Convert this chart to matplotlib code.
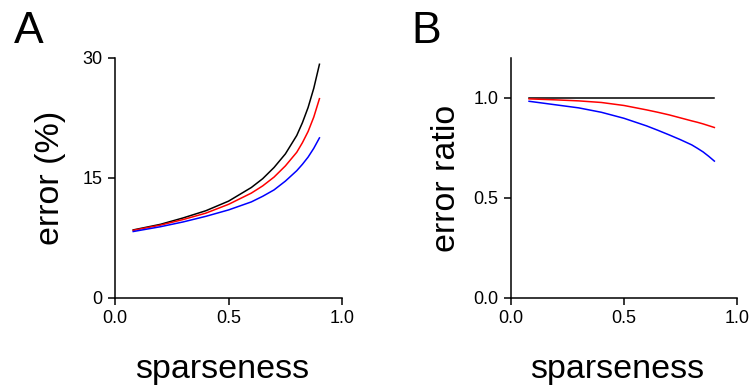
import matplotlib
matplotlib.use('Agg')
import matplotlib.pyplot as plt

plt.rcParams['font.family'] = ['Liberation Sans', 'DejaVu Sans']

# sparseness values where the curves were sampled
sparseness = [0.08, 0.2, 0.3, 0.4, 0.5, 0.6, 0.65, 0.7, 0.75, 0.8, 0.825, 0.85, 0.875, 0.9]

# panel A: error (%)
err_black = [8.5, 9.2, 10.0, 10.9, 12.1, 13.8, 14.9, 16.3, 18.0, 20.3, 21.9, 23.8, 26.2, 29.2]
err_red = [8.45, 9.1, 9.8, 10.6, 11.7, 13.1, 14.0, 15.1, 16.5, 18.2, 19.4, 20.8, 22.6, 24.9]
err_blue = [8.3, 8.9, 9.5, 10.2, 11.0, 12.0, 12.7, 13.5, 14.6, 15.9, 16.7, 17.6, 18.7, 20.0]

# panel B: error ratio
ratio_black = [1.0] * 14
ratio_red = [0.995, 0.99, 0.985, 0.977, 0.962, 0.94, 0.928, 0.915, 0.9, 0.885, 0.878, 0.87, 0.861, 0.852]
ratio_blue = [0.983, 0.965, 0.95, 0.928, 0.898, 0.86, 0.838, 0.815, 0.791, 0.765, 0.748, 0.73, 0.708, 0.684]

fig = plt.figure(figsize=(7.52, 3.91), dpi=100)
axA = fig.add_axes([0.153, 0.238, 0.302, 0.614])
axB = fig.add_axes([0.6795, 0.238, 0.3005, 0.614])

lw = 1.1
for ax in (axA, axB):
    for side in ('top', 'right'):
        ax.spines[side].set_visible(False)
    for side in ('left', 'bottom'):
        ax.spines[side].set_linewidth(1.1)
    ax.tick_params(direction='out', length=5, width=1.1, labelsize=13, pad=4)
    ax.set_xlim(0, 1)
    ax.set_xticks([0, 0.5, 1.0])
    ax.set_xticklabels(['0.0', '0.5', '1.0'])
    ax.set_xlabel('sparseness', fontsize=24.5, labelpad=19)
    ax.xaxis.label.set_x(0.47)

axA.plot(sparseness, err_black, color='black', lw=lw)
axA.plot(sparseness, err_red, color='red', lw=lw)
axA.plot(sparseness, err_blue, color='blue', lw=lw)
axA.set_ylim(0, 30)
axA.set_yticks([0, 15, 30])
axA.set_ylabel('error (%)', fontsize=24.5, labelpad=12)

axB.plot(sparseness, ratio_black, color='black', lw=lw)
axB.plot(sparseness, ratio_red, color='red', lw=lw)
axB.plot(sparseness, ratio_blue, color='blue', lw=lw)
axB.set_ylim(0, 1.2)
axB.set_yticks([0, 0.5, 1.0])
axB.set_yticklabels(['0.0', '0.5', '1.0'])
axB.set_ylabel('error ratio', fontsize=24.5, labelpad=8)

fig.text(0.018, 0.89, 'A', fontsize=32)
fig.text(0.547, 0.89, 'B', fontsize=32)

fig.savefig('out.png', dpi=100)
